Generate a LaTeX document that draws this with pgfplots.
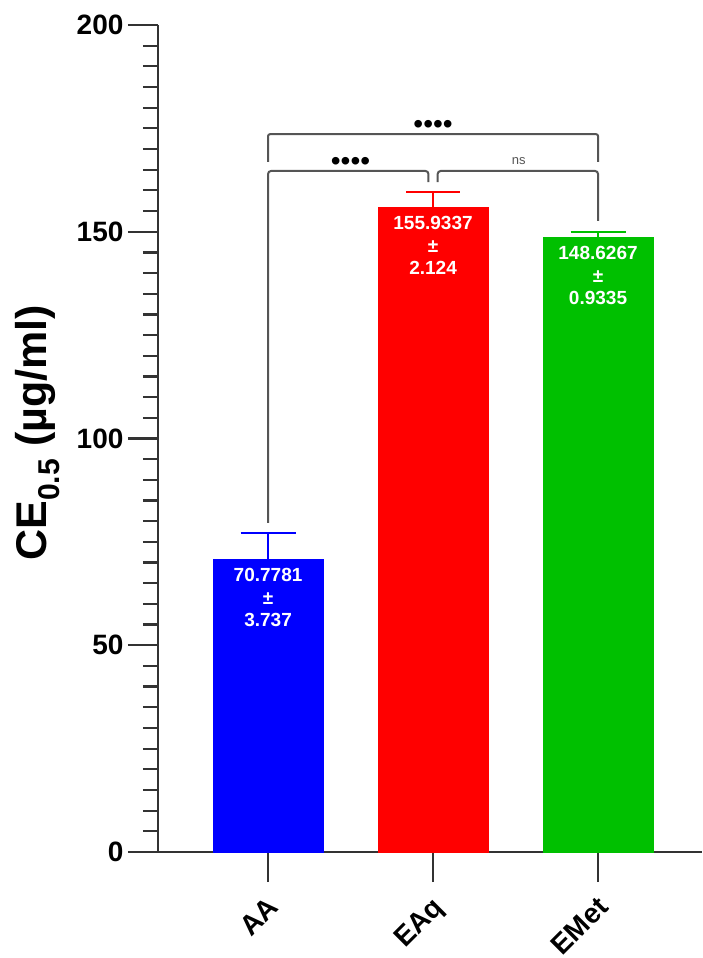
\documentclass[border=0pt]{standalone}
\usepackage{pgfplots}
\pgfplotsset{compat=1.18}
\usepackage{fontspec}
\setmainfont{Liberation Sans}
\definecolor{barblue}{RGB}{0,0,255}
\definecolor{barred}{RGB}{255,0,0}
\definecolor{bargreen}{RGB}{0,192,0}
\definecolor{axgray}{RGB}{51,51,51}
\definecolor{brgray}{RGB}{85,85,85}
\begin{document}
\begin{tikzpicture}
\path[use as bounding box] (0,0) rectangle (702pt,958pt);
\begin{axis}[
  at={(158pt,106pt)}, anchor=south west,
  scale only axis, width=544pt, height=827pt,
  xmin=-0.667, xmax=2.63, ymin=0, ymax=200,
  ybar, bar width=110pt, bar shift=0pt,
  axis lines=left, axis line style={-, line width=2.5pt, color=axgray},
  clip=false,
  xtick={0,1,2}, xticklabels={AA,EAq,EMet},
  ytick={0,50,100,150,200},
  minor y tick num=9,
  tick align=outside,
  major tick length=30pt, minor tick length=15pt,
  tick style={line width=2.2pt, color=axgray},
  /pgf/number format/assume math mode=true,
  tick label style={font=\fontsize{28}{28}\selectfont\bfseries},
  yticklabel style={xshift=-1pt},
  xticklabel style={xshift=-2pt, yshift=-12pt, rotate=45, anchor=north east, inner sep=1pt},
  ylabel={CE\textsubscript{0.5} (µg/ml)},
  ylabel style={font=\fontsize{43}{43}\selectfont\bfseries, at={(axis description cs:-0.221,0.507)}, anchor=center, inner sep=0pt},
  error bars/y dir=plus, error bars/y explicit,
]
\addplot[fill=barblue, draw=barblue, error bars/.cd, error bar style={line width=2pt, draw=barblue}, error mark options={rotate=90, mark size=27.5pt, line width=2pt, draw=barblue}]
  coordinates {(0,70.7781) +- (0,6.3)};
\addplot[fill=barred, draw=barred, error bars/.cd, error bar style={line width=2pt, draw=barred}, error mark options={rotate=90, mark size=27pt, line width=2pt, draw=barred}]
  coordinates {(1,155.9337) +- (0,3.6)};
\addplot[fill=bargreen, draw=bargreen, error bars/.cd, error bar style={line width=2pt, draw=bargreen}, error mark options={rotate=90, mark size=27.5pt, line width=2pt, draw=bargreen}]
  coordinates {(2,148.6267) +- (0,1.4)};

\tikzset{barlab/.style={anchor=north, align=center, text=white, inner sep=0pt, yshift=-9pt, font=\fontsize{19}{22.5}\selectfont\bfseries}}
\node[barlab] at (axis cs:0,70.7781) {70.7781\\±\\3.737};
\node[barlab] at (axis cs:1,155.9337) {155.9337\\±\\2.124};
\node[barlab] at (axis cs:2,148.6267) {148.6267\\±\\0.9335};

\draw[brgray, line width=2pt, rounded corners=3pt] (axis cs:0,79.6) |- (axis cs:0.972,164.7) -- (axis cs:0.972,162);
\draw[brgray, line width=2pt, rounded corners=3pt] (axis cs:1.028,162) |- (axis cs:2,164.7) -- (axis cs:2,152.6);
\draw[brgray, line width=2pt, rounded corners=2pt] (axis cs:0,166.9) |- (axis cs:2,173.6) -- (axis cs:2,166.9);
\node[font=\fontsize{28}{28}\selectfont, text=black, inner sep=0pt] at (axis cs:1.0,175.4) {••••};
\node[font=\fontsize{28}{28}\selectfont, text=black, inner sep=0pt] at (axis cs:0.5,166.3) {••••};
\node[font=\fontsize{13}{13}\selectfont, text=brgray, inner sep=0pt] at (axis cs:1.52,167.0) {ns};
\end{axis}
\end{tikzpicture}
\end{document}
